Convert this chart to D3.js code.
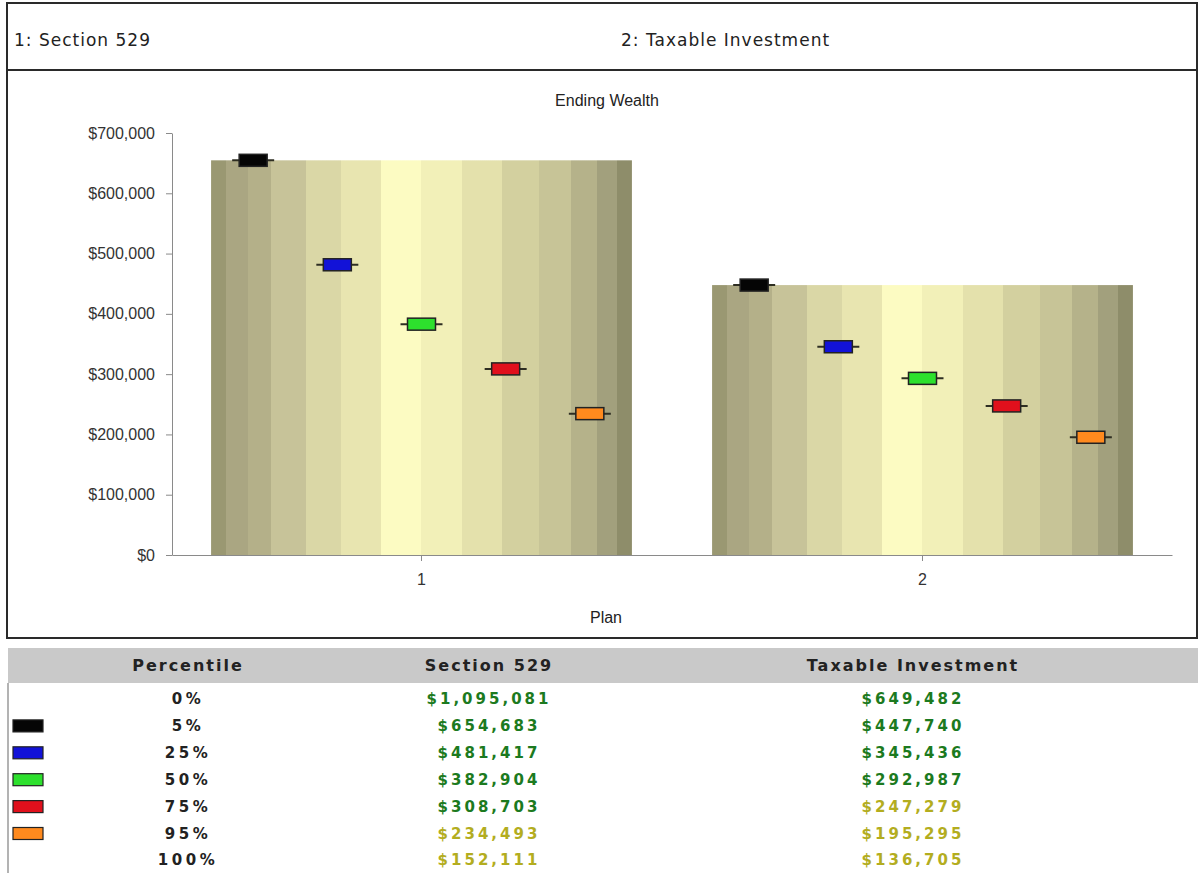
<!DOCTYPE html>
<html>
<head>
<meta charset="utf-8">
<script src="https://cdn.jsdelivr.net/npm/d3@7"></script>
<style>
  html, body { margin: 0; padding: 0; background: #fff; }
  svg { display: block; }
</style>
</head>
<body>
<script>
// ---- data ----
const plans = ["1", "2"];
const planNames = ["Section 529", "Taxable Investment"];
const percentiles = ["0%", "5%", "25%", "50%", "75%", "95%", "100%"];
const section529 = [1095081, 654683, 481417, 382904, 308703, 234493, 152111];
const taxableInvestment = [649482, 447740, 345436, 292987, 247279, 195295, 136705];
const plottedPercentiles = ["5%", "25%", "50%", "75%", "95%"];
const yTicks = [0, 100000, 200000, 300000, 400000, 500000, 600000, 700000];
const targetWealth = 250000;

// ---- styles ----
const markerColors = {"5%": "#050505", "25%": "#1212d8", "50%": "#2de02d", "75%": "#e0101c", "95%": "#ff8a1e"};
const stripeEdges = [0, .036, .088, .143, .226, .309, .404, .499, .596, .691, .779, .855, .917, .964, 1];
const stripeColors = ["#9a9872", "#aaa682", "#b4b089", "#c7c399", "#dad7a6", "#e8e5b0", "#fcfbc2",
                      "#f2f0b8", "#e4e1ac", "#d3d09f", "#c7c497", "#b5b28a", "#a2a07d", "#8e8d6a"];
const axisFont = "'Liberation Sans', Arial, sans-serif";
const uiFont = "'DejaVu Sans', Verdana, sans-serif";
const green = "#1c7a20", olive = "#b3ad1f";

const W = 1199, H = 873;
const svg = d3.select("body").append("svg").attr("width", W).attr("height", H);

// ---- frames ----
svg.append("rect").attr("x", 7).attr("y", 3).attr("width", 1190).attr("height", 67)
  .attr("fill", "#fff").attr("stroke", "#2a2a2a").attr("stroke-width", 2);
svg.append("rect").attr("x", 7).attr("y", 70).attr("width", 1190).attr("height", 568)
  .attr("fill", "#fff").attr("stroke", "#2a2a2a").attr("stroke-width", 2);

const headerX = [14, 621];
svg.selectAll("text.plan-head").data(plans).join("text")
  .attr("class", "plan-head")
  .attr("x", (d, i) => headerX[i]).attr("y", 46)
  .attr("font-family", uiFont).attr("font-size", 17).attr("letter-spacing", 1)
  .attr("fill", "#222")
  .text((d, i) => `${d}: ${planNames[i]}`);

// ---- chart ----
const x = d3.scaleBand().domain(plans).range([172, 1172]).paddingInner(0.16).paddingOuter(0.078);
const y = d3.scaleLinear().domain([0, 700000]).range([555, 133]);
const inner = d3.scalePoint().domain(plottedPercentiles).range([0, x.bandwidth()]).padding(0.5);

const defs = svg.append("defs");
const grad = defs.append("linearGradient").attr("id", "barShade")
  .attr("x1", "0%").attr("x2", "100%").attr("y1", "0%").attr("y2", "0%");
stripeColors.forEach((c, i) => {
  grad.append("stop").attr("offset", stripeEdges[i]).attr("stop-color", c);
  grad.append("stop").attr("offset", stripeEdges[i + 1]).attr("stop-color", c);
});

svg.append("text").attr("x", 607).attr("y", 106).attr("text-anchor", "middle")
  .attr("font-family", axisFont).attr("font-size", 16).attr("fill", "#222")
  .text("Ending Wealth");

const series = [section529, taxableInvestment];
const planData = plans.map((p, i) => ({
  plan: p,
  values: percentiles.map((q, j) => ({q, v: series[i][j]}))
}));

// bar height is the 5th-percentile outcome
svg.selectAll("rect.bar").data(planData).join("rect")
  .attr("class", "bar")
  .attr("x", d => x(d.plan))
  .attr("width", x.bandwidth())
  .attr("y", d => y(d.values.find(e => e.q === "5%").v))
  .attr("height", d => y(0) - y(d.values.find(e => e.q === "5%").v))
  .attr("fill", "url(#barShade)");

// y axis
const yAxis = svg.append("g").attr("transform", "translate(172,0)")
  .call(d3.axisLeft(y).tickValues(yTicks).tickFormat(d3.format("$,")).tickSize(6).tickSizeOuter(0).tickPadding(11));
yAxis.select(".domain").attr("stroke", "#8a8a8a");
yAxis.selectAll(".tick line").attr("stroke", "#8a8a8a");
yAxis.selectAll(".tick text").attr("font-family", axisFont).attr("font-size", 16).attr("fill", "#333");

// x axis
const xAxis = svg.append("g").attr("transform", "translate(0,555)")
  .call(d3.axisBottom(x).tickSize(6).tickSizeOuter(0).tickPadding(13));
xAxis.select(".domain").attr("stroke", "#8a8a8a");
xAxis.selectAll(".tick line").attr("stroke", "#8a8a8a");
xAxis.selectAll(".tick text").attr("font-family", axisFont).attr("font-size", 16).attr("fill", "#333");

svg.append("text").attr("x", 606).attr("y", 623).attr("text-anchor", "middle")
  .attr("font-family", axisFont).attr("font-size", 16).attr("fill", "#222")
  .text("Plan");

// percentile markers
const markers = planData.flatMap(d => d.values
  .filter(e => plottedPercentiles.includes(e.q))
  .map(e => ({plan: d.plan, q: e.q, v: e.v})));
const mg = svg.selectAll("g.marker").data(markers).join("g")
  .attr("class", "marker")
  .attr("transform", d => `translate(${x(d.plan) + inner(d.q)},${y(d.v)})`);
mg.append("line").attr("x1", -21).attr("x2", 21)
  .attr("stroke", "#2e2e22").attr("stroke-width", 2);
mg.append("rect").attr("x", -14).attr("y", -6).attr("width", 28).attr("height", 12)
  .attr("fill", d => markerColors[d.q]).attr("stroke", "#222").attr("stroke-width", 1.5);

// ---- table ----
const colX = [188, 489, 913];
const headY = 665, rowY0 = 699, rowStep = 26.9;
svg.append("rect").attr("x", 8).attr("y", 648).attr("width", 1190).attr("height", 35).attr("fill", "#c9c9c9");
svg.append("line").attr("x1", 8).attr("x2", 8).attr("y1", 683).attr("y2", H)
  .attr("stroke", "#9a9a9a").attr("stroke-width", 1.5);

const headers = ["Percentile", ...planNames];
svg.selectAll("text.col-head").data(headers).join("text")
  .attr("class", "col-head")
  .attr("x", (d, i) => colX[i]).attr("y", headY + 6)
  .attr("text-anchor", "middle").attr("font-family", uiFont).attr("font-weight", "bold")
  .attr("font-size", 16).attr("letter-spacing", 2).attr("fill", "#222")
  .text(d => d);

const rows = percentiles.map((q, j) => ({q, a: section529[j], b: taxableInvestment[j], j}));
const fmt = d3.format("$,");
const rg = svg.selectAll("g.row").data(rows).join("g")
  .attr("class", "row")
  .attr("transform", d => `translate(0,${rowY0 + d.j * rowStep})`);
rg.append("text").attr("x", colX[0]).attr("y", 5).attr("text-anchor", "middle")
  .attr("font-family", uiFont).attr("font-weight", "bold").attr("font-size", 15)
  .attr("letter-spacing", 3.5).attr("fill", "#222").text(d => d.q);
rg.append("text").attr("x", colX[1]).attr("y", 5).attr("text-anchor", "middle")
  .attr("font-family", uiFont).attr("font-weight", "bold").attr("font-size", 15)
  .attr("letter-spacing", 3).attr("fill", d => d.a < targetWealth ? olive : green).text(d => fmt(d.a));
rg.append("text").attr("x", colX[2]).attr("y", 5).attr("text-anchor", "middle")
  .attr("font-family", uiFont).attr("font-weight", "bold").attr("font-size", 15)
  .attr("letter-spacing", 3).attr("fill", d => d.b < targetWealth ? olive : green).text(d => fmt(d.b));
rg.filter(d => plottedPercentiles.includes(d.q))
  .append("rect").attr("x", 13).attr("y", -6).attr("width", 30).attr("height", 12)
  .attr("fill", d => markerColors[d.q]).attr("stroke", "#222").attr("stroke-width", 1.2);
</script>
</body>
</html>
